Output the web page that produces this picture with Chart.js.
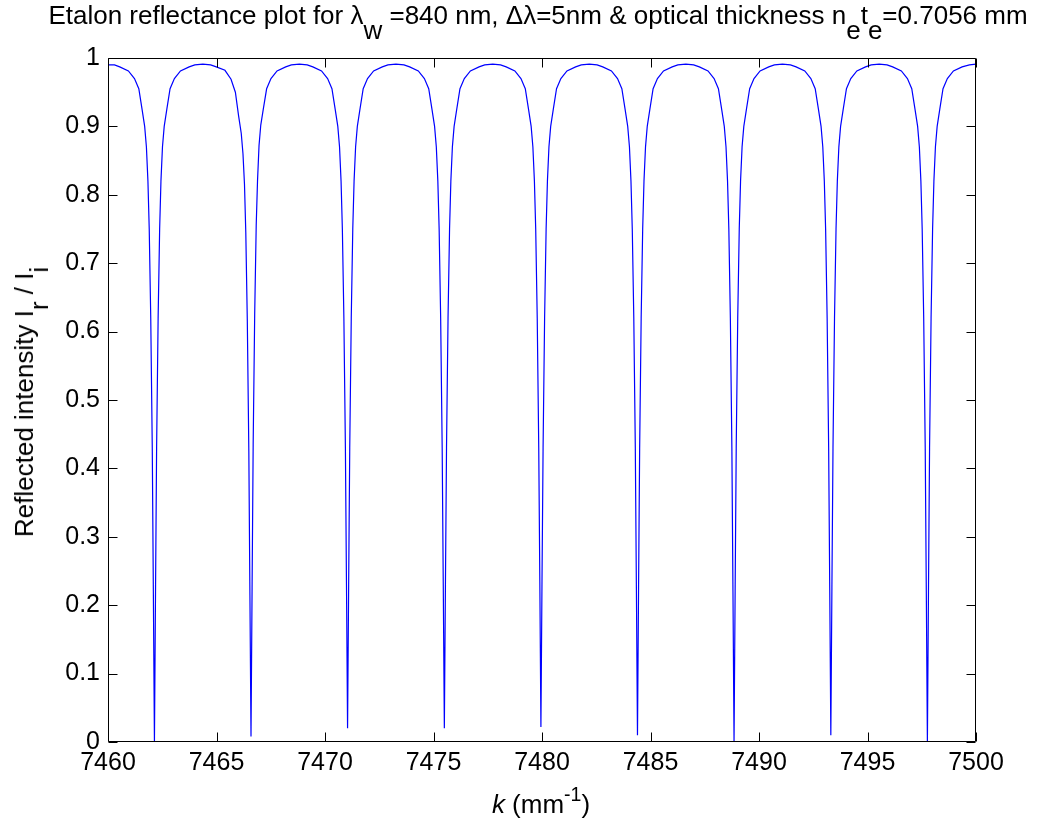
<!DOCTYPE html>
<html>
<head>
<meta charset="utf-8">
<script src="https://cdn.jsdelivr.net/npm/chart.js@4.4.1/dist/chart.umd.min.js"></script>
<style>
html,body{margin:0;padding:0;background:#fff;}
#wrap{position:relative;width:1040px;height:825px;font-family:'Liberation Sans',Arial,Helvetica,sans-serif;color:#000;overflow:hidden;}
#c{position:absolute;left:0;top:0;}
.lbl{position:absolute;white-space:nowrap;font-size:26px;line-height:26px;}
.lbl .sb{position:relative;top:0.58em;font-size:1em;}
.lbl .sp{position:relative;top:-0.6em;font-size:0.75em;}
#title{left:538px;top:2px;transform:translateX(-50%);}
#xlab{left:541px;top:791px;transform:translateX(-50%);}
#ylab{left:24px;top:402px;transform:translate(-50%,-50%) rotate(-90deg);}
</style>
</head>
<body>
<div id="wrap">
<canvas id="c" width="1040" height="825"></canvas>
<div class="lbl" id="title">Etalon reflectance plot for λ<span class="sb">w</span> =840 nm, Δλ=5nm &amp; optical thickness n<span class="sb">e</span>t<span class="sb">e</span>=0.7056 mm</div>
<div class="lbl" id="xlab"><i>k</i> (mm<span class="sp">-1</span>)</div>
<div class="lbl" id="ylab">Reflected intensity I<span class="sb">r</span> / I<span class="sb">i</span></div>
</div>
<script>
// wavenumber k (mm^-1)
const kValues = [
  7460.00, 7460.30,
  7460.54, 7460.94, 7461.22, 7461.42, 7461.57, 7461.69, 7461.77, 7461.84, 7461.90, 7461.97, 7462.04, 7462.09, 7462.14, 7462.19, 7462.24, 7462.31, 7462.38, 7462.44, 7462.51, 7462.59, 7462.71, 7462.86, 7463.06, 7463.34, 7463.74,
  7464.00, 7464.37, 7464.73,
  7464.99, 7465.39, 7465.67, 7465.87, 7466.02, 7466.14, 7466.22, 7466.29, 7466.35, 7466.42, 7466.49, 7466.54, 7466.59, 7466.64, 7466.69, 7466.76, 7466.83, 7466.89, 7466.96, 7467.04, 7467.16, 7467.31, 7467.51, 7467.79, 7468.19,
  7468.45, 7468.82, 7469.18,
  7469.44, 7469.84, 7470.12, 7470.32, 7470.47, 7470.59, 7470.67, 7470.74, 7470.80, 7470.87, 7470.94, 7470.99, 7471.04, 7471.09, 7471.14, 7471.21, 7471.28, 7471.34, 7471.41, 7471.49, 7471.61, 7471.76, 7471.96, 7472.24, 7472.64,
  7472.90, 7473.27, 7473.64,
  7473.90, 7474.30, 7474.58, 7474.78, 7474.93, 7475.05, 7475.13, 7475.20, 7475.26, 7475.33, 7475.40, 7475.45, 7475.50, 7475.55, 7475.60, 7475.67, 7475.74, 7475.80, 7475.87, 7475.95, 7476.07, 7476.22, 7476.42, 7476.70, 7477.10,
  7477.36, 7477.73, 7478.09,
  7478.35, 7478.75, 7479.03, 7479.23, 7479.38, 7479.50, 7479.58, 7479.65, 7479.71, 7479.78, 7479.85, 7479.90, 7479.95, 7480.00, 7480.05, 7480.12, 7480.19, 7480.25, 7480.32, 7480.40, 7480.52, 7480.67, 7480.87, 7481.15, 7481.55,
  7481.81, 7482.18, 7482.54,
  7482.80, 7483.20, 7483.48, 7483.68, 7483.83, 7483.95, 7484.03, 7484.10, 7484.16, 7484.23, 7484.30, 7484.35, 7484.40, 7484.45, 7484.50, 7484.57, 7484.64, 7484.70, 7484.77, 7484.85, 7484.97, 7485.12, 7485.32, 7485.60, 7486.00,
  7486.26, 7486.63, 7486.99,
  7487.25, 7487.65, 7487.93, 7488.13, 7488.28, 7488.40, 7488.48, 7488.55, 7488.61, 7488.68, 7488.75, 7488.80, 7488.85, 7488.90, 7488.95, 7489.02, 7489.09, 7489.15, 7489.22, 7489.30, 7489.42, 7489.57, 7489.77, 7490.05, 7490.45,
  7490.71, 7491.08, 7491.45,
  7491.71, 7492.11, 7492.39, 7492.59, 7492.74, 7492.86, 7492.94, 7493.01, 7493.07, 7493.14, 7493.21, 7493.26, 7493.31, 7493.36, 7493.41, 7493.48, 7493.55, 7493.61, 7493.68, 7493.76, 7493.88, 7494.03, 7494.23, 7494.51, 7494.91,
  7495.17, 7495.54, 7495.90,
  7496.16, 7496.56, 7496.84, 7497.04, 7497.19, 7497.31, 7497.39, 7497.46, 7497.52, 7497.59, 7497.66, 7497.71, 7497.76, 7497.81, 7497.86, 7497.93, 7498.00, 7498.06, 7498.13, 7498.21, 7498.33, 7498.48, 7498.68, 7498.96, 7499.36,
  7499.70, 7500.00
];
// reflected intensity Ir/Ii
const reflectance = [
  0.990, 0.990,
  0.987, 0.981, 0.970, 0.955, 0.925, 0.900, 0.870, 0.820, 0.750, 0.620, 0.430, 0.220, 0.000, 0.220, 0.430, 0.620, 0.750, 0.820, 0.870, 0.900, 0.925, 0.955, 0.970, 0.981, 0.987,
  0.990, 0.991, 0.990,
  0.987, 0.982, 0.969, 0.950, 0.915, 0.890, 0.860, 0.815, 0.745, 0.615, 0.425, 0.215, 0.008, 0.225, 0.435, 0.625, 0.755, 0.820, 0.872, 0.902, 0.926, 0.955, 0.970, 0.981, 0.987,
  0.990, 0.991, 0.990,
  0.987, 0.981, 0.970, 0.955, 0.925, 0.900, 0.870, 0.820, 0.750, 0.620, 0.430, 0.230, 0.020, 0.230, 0.430, 0.620, 0.750, 0.820, 0.870, 0.900, 0.925, 0.955, 0.970, 0.981, 0.987,
  0.990, 0.991, 0.990,
  0.987, 0.981, 0.970, 0.955, 0.925, 0.900, 0.870, 0.820, 0.750, 0.620, 0.430, 0.230, 0.020, 0.230, 0.430, 0.620, 0.750, 0.820, 0.870, 0.900, 0.925, 0.955, 0.970, 0.981, 0.987,
  0.990, 0.991, 0.990,
  0.987, 0.981, 0.970, 0.955, 0.925, 0.900, 0.870, 0.820, 0.750, 0.620, 0.430, 0.235, 0.022, 0.235, 0.430, 0.620, 0.750, 0.820, 0.870, 0.900, 0.925, 0.955, 0.970, 0.981, 0.987,
  0.990, 0.991, 0.990,
  0.987, 0.981, 0.970, 0.955, 0.925, 0.900, 0.870, 0.820, 0.750, 0.620, 0.430, 0.225, 0.010, 0.225, 0.430, 0.620, 0.750, 0.820, 0.870, 0.900, 0.925, 0.955, 0.970, 0.981, 0.987,
  0.990, 0.991, 0.990,
  0.987, 0.981, 0.970, 0.955, 0.925, 0.900, 0.870, 0.820, 0.750, 0.620, 0.430, 0.220, 0.000, 0.220, 0.430, 0.620, 0.750, 0.820, 0.870, 0.900, 0.925, 0.955, 0.970, 0.981, 0.987,
  0.990, 0.991, 0.990,
  0.987, 0.981, 0.970, 0.955, 0.925, 0.900, 0.870, 0.820, 0.750, 0.620, 0.430, 0.225, 0.010, 0.225, 0.430, 0.620, 0.750, 0.820, 0.870, 0.900, 0.925, 0.955, 0.970, 0.981, 0.987,
  0.990, 0.991, 0.990,
  0.987, 0.981, 0.970, 0.955, 0.925, 0.900, 0.870, 0.820, 0.750, 0.620, 0.430, 0.220, 0.000, 0.220, 0.430, 0.620, 0.750, 0.820, 0.870, 0.900, 0.925, 0.955, 0.970, 0.981, 0.987,
  0.990, 0.991
];
const xTickValues = [7460, 7465, 7470, 7475, 7480, 7485, 7490, 7495, 7500];
const yTickValues = [0, 0.1, 0.2, 0.3, 0.4, 0.5, 0.6, 0.7, 0.8, 0.9, 1];
const yTickLabels = ['0', '0.1', '0.2', '0.3', '0.4', '0.5', '0.6', '0.7', '0.8', '0.9', '1'];

const FONT = "'Liberation Sans', Arial, Helvetica, sans-serif";
const TICK_LEN = 9;

const boxPlugin = {
  id: 'matlabBox',
  afterDraw(chart) {
    const ctx = chart.ctx, a = chart.chartArea, xs = chart.scales.x, ys = chart.scales.y;
    ctx.save();
    ctx.strokeStyle = '#000';
    ctx.lineWidth = 1;
    const L = Math.round(a.left) + 0.5, R = Math.round(a.right) - 0.5;
    const T = Math.round(a.top) + 0.5, B = Math.round(a.bottom) - 0.5;
    ctx.beginPath();
    ctx.rect(L, T, R - L, B - T);
    xTickValues.forEach(v => {
      const px = Math.round(xs.getPixelForValue(v)) + 0.5;
      ctx.moveTo(px, B); ctx.lineTo(px, B - TICK_LEN);
      ctx.moveTo(px, T); ctx.lineTo(px, T + TICK_LEN);
    });
    yTickValues.forEach(v => {
      const py = Math.round(ys.getPixelForValue(v)) + 0.5;
      ctx.moveTo(L, py); ctx.lineTo(L + TICK_LEN, py);
      ctx.moveTo(R, py); ctx.lineTo(R - TICK_LEN, py);
    });
    ctx.stroke();
    ctx.restore();
  }
};

new Chart(document.getElementById('c'), {
  type: 'line',
  data: {
    datasets: [{
      data: kValues.map((k, i) => ({ x: k, y: reflectance[i] })),
      borderColor: '#0000ff',
      borderWidth: 1.2,
      pointRadius: 0,
      tension: 0,
      fill: false
    }]
  },
  options: {
    responsive: false,
    animation: false,
    devicePixelRatio: 1,
    layout: { padding: { left: 0, top: 58, right: 64, bottom: 0 } },
    plugins: { legend: { display: false }, tooltip: { enabled: false }, title: { display: false } },
    scales: {
      x: {
        type: 'linear',
        min: 7460, max: 7500,
        afterBuildTicks: s => { s.ticks = xTickValues.map(v => ({ value: v })); },
        afterFit: s => { s.height = 83; },
        grid: { display: false, drawTicks: false },
        border: { display: false },
        ticks: {
          padding: 6,
          color: '#000',
          font: { family: FONT, size: 25 },
          maxRotation: 0,
          autoSkip: false,
          callback: v => String(v)
        }
      },
      y: {
        type: 'linear',
        min: 0, max: 1,
        afterBuildTicks: s => { s.ticks = yTickValues.map(v => ({ value: v })); },
        afterFit: s => { s.width = 108; },
        grid: { display: false, drawTicks: false },
        border: { display: false },
        ticks: {
          padding: 8,
          color: '#000',
          font: { family: FONT, size: 25 },
          autoSkip: false,
          callback: (v, i) => yTickLabels[i]
        }
      }
    }
  },
  plugins: [boxPlugin]
});
</script>
</body>
</html>
